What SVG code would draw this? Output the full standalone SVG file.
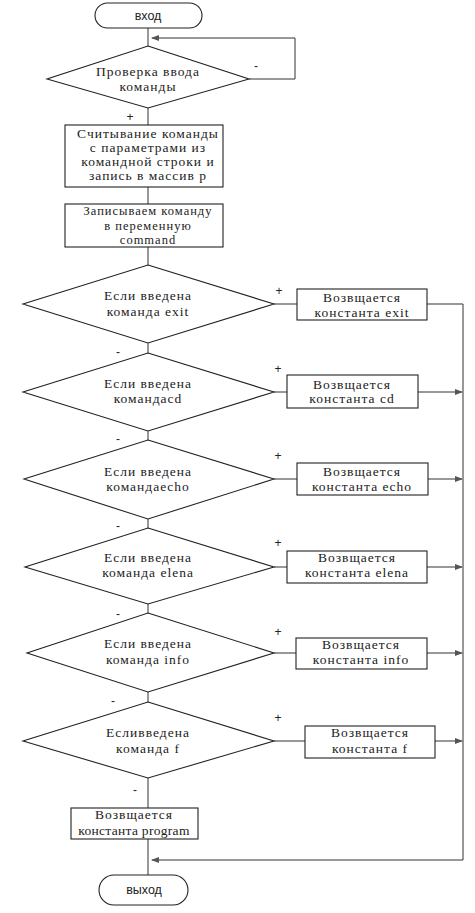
<svg xmlns="http://www.w3.org/2000/svg" width="475" height="913" viewBox="0 0 475 913">
<defs>
<style>
.s{fill:#fff;stroke:#222;stroke-width:1.1}
.t{font-family:"Liberation Serif","Times New Roman",serif;font-size:13.5px;fill:#222;text-anchor:middle;letter-spacing:1px}
.t2{font-size:12.5px}
.ts{font-family:"Liberation Sans",Arial,sans-serif;font-size:12.5px;fill:#222;text-anchor:middle}
.l{fill:none;stroke:#333;stroke-width:1}
.lb{font-family:"Liberation Sans",Arial,sans-serif;font-size:12px;fill:#222;text-anchor:middle}
</style>
<marker id="ar" markerWidth="8" markerHeight="6" refX="7" refY="3" orient="auto" markerUnits="userSpaceOnUse">
<path d="M0,0 L8,3 L0,6 Z" fill="#555"/>
</marker>
</defs>
<rect width="475" height="913" fill="#fff"/>
<g id="connectors">
<line class="l" x1="148" y1="28" x2="148" y2="46"/>
<polyline class="l" points="249,79 295,79 295,38 152,38" marker-end="url(#ar)"/>
<line class="l" x1="148" y1="108" x2="148" y2="125"/>
<line class="l" x1="148" y1="187" x2="148" y2="204"/>
<line class="l" x1="148" y1="247" x2="148" y2="265"/>
<line class="l" x1="274" y1="304" x2="297" y2="304"/>
<polyline class="l" points="427,304 463,304 463,860 152,860" marker-end="url(#ar)"/>
<line class="l" x1="148" y1="343" x2="148" y2="353"/>
<line class="l" x1="274" y1="392" x2="287" y2="392"/>
<line class="l" x1="418" y1="392" x2="462" y2="392" marker-end="url(#ar)"/>
<line class="l" x1="148" y1="431" x2="148" y2="440"/>
<line class="l" x1="274" y1="479" x2="297" y2="479"/>
<line class="l" x1="428" y1="479" x2="462" y2="479" marker-end="url(#ar)"/>
<line class="l" x1="148" y1="519" x2="148" y2="528"/>
<line class="l" x1="274" y1="567" x2="287" y2="567"/>
<line class="l" x1="427" y1="567" x2="462" y2="567" marker-end="url(#ar)"/>
<line class="l" x1="148" y1="604" x2="148" y2="613"/>
<line class="l" x1="274" y1="653" x2="296" y2="653"/>
<line class="l" x1="427" y1="653" x2="462" y2="653" marker-end="url(#ar)"/>
<line class="l" x1="148" y1="692" x2="148" y2="702"/>
<line class="l" x1="274" y1="741" x2="305" y2="741"/>
<line class="l" x1="435" y1="741" x2="462" y2="741" marker-end="url(#ar)"/>
<line class="l" x1="148" y1="778" x2="148" y2="808"/>
<line class="l" x1="148" y1="839" x2="148" y2="875"/>
</g>
<g id="labels">
<text class="lb" x="256" y="70">-</text>
<text class="lb" x="59" y="80">-</text>
<text class="lb" x="91" y="85">-</text>
<text class="lb" x="130" y="121">+</text>
<text class="lb" x="279" y="295">+</text>
<text class="lb" x="118" y="356">-</text>
<text class="lb" x="278" y="373">+</text>
<text class="lb" x="118" y="443">-</text>
<text class="lb" x="278" y="460">+</text>
<text class="lb" x="118" y="530">-</text>
<text class="lb" x="278" y="547">+</text>
<text class="lb" x="118" y="618">-</text>
<text class="lb" x="278" y="636">+</text>
<text class="lb" x="113" y="705">-</text>
<text class="lb" x="278" y="722">+</text>
<text class="lb" x="135" y="794">-</text>
</g>
<g id="start">
<rect class="s" x="95" y="3" width="107" height="25" rx="12.5"/>
<text class="ts" x="148" y="20">вход</text>
</g>
<g id="check">
<polygon class="s" points="148,46 249,79 148,108 47,79"/>
<text class="t" x="148" y="76">Проверка ввода</text>
<text class="t" x="148" y="91">команды</text>
</g>
<g id="read">
<rect class="s" x="65" y="125" width="158" height="62"/>
<text class="t" x="148" y="138">Считывание команды</text>
<text class="t" x="148" y="152">с параметрами  из</text>
<text class="t" x="148" y="166">командной строки  и</text>
<text class="t" x="148" y="180">запись в массив р</text>
</g>
<g id="store">
<rect class="s" x="65" y="204" width="158" height="43"/>
<text class="t t2" x="148" y="215">Записываем команду</text>
<text class="t t2" x="148" y="229.5">в  переменную</text>
<text class="t t2" x="148" y="244">command</text>
</g>
<g id="if-exit">
<polygon class="s" points="148,265 274,304 148,343 23,304"/>
<text class="t" x="148" y="300">Если введена</text>
<text class="t" x="148" y="316">команда  exit</text>
</g>
<g id="ret-exit">
<rect class="s" x="297" y="289" width="130" height="31"/>
<text class="t" x="362" y="302">Возвщается</text>
<text class="t" x="362" y="317">константа exit</text>
</g>
<g id="if-cd">
<polygon class="s" points="148,353 274,392 148,431 23,392"/>
<text class="t" x="148" y="388">Если введена</text>
<text class="t" x="148" y="403">командаcd</text>
</g>
<g id="ret-cd">
<rect class="s" x="287" y="375" width="131" height="33"/>
<text class="t" x="352" y="389">Возвщается</text>
<text class="t" x="352" y="403">константа cd</text>
</g>
<g id="if-echo">
<polygon class="s" points="148,440 274,479 148,519 24,479"/>
<text class="t" x="148" y="476">Если введена</text>
<text class="t" x="148" y="491">командаecho</text>
</g>
<g id="ret-echo">
<rect class="s" x="297" y="463" width="131" height="32"/>
<text class="t" x="362" y="476">Возвщается</text>
<text class="t" x="362" y="491">константа echo</text>
</g>
<g id="if-elena">
<polygon class="s" points="148,528 274,567 148,604 25,567"/>
<text class="t" x="148" y="562">Если  введена</text>
<text class="t" x="148" y="577">команда elena</text>
</g>
<g id="ret-elena">
<rect class="s" x="287" y="551" width="140" height="32"/>
<text class="t" x="357" y="562">Возвщается</text>
<text class="t" x="357" y="577">константа  elena</text>
</g>
<g id="if-info">
<polygon class="s" points="148,613 274,653 148,692 27,653"/>
<text class="t" x="148" y="648">Если введена</text>
<text class="t" x="148" y="664">команда info</text>
</g>
<g id="ret-info">
<rect class="s" x="296" y="638" width="131" height="31"/>
<text class="t" x="361" y="649">Возвщается</text>
<text class="t" x="361" y="664">константа info</text>
</g>
<g id="if-f">
<polygon class="s" points="148,702 274,741 148,778 23,741"/>
<text class="t" x="148" y="737">Есливведена</text>
<text class="t" x="148" y="753">команда   f</text>
</g>
<g id="ret-f">
<rect class="s" x="305" y="726" width="130" height="32"/>
<text class="t" x="370" y="737">Возвщается</text>
<text class="t" x="370" y="753">константа  f</text>
</g>
<g id="ret-program">
<rect class="s" x="71" y="808" width="127" height="31"/>
<text class="t" x="134" y="819">Возвщается</text>
<text class="t" x="134" y="835" style="letter-spacing:0.3px">константа  program</text>
</g>
<g id="end">
<rect class="s" x="99" y="875" width="89" height="30" rx="15"/>
<text class="ts" x="144" y="894">выход</text>
</g>
</svg>
